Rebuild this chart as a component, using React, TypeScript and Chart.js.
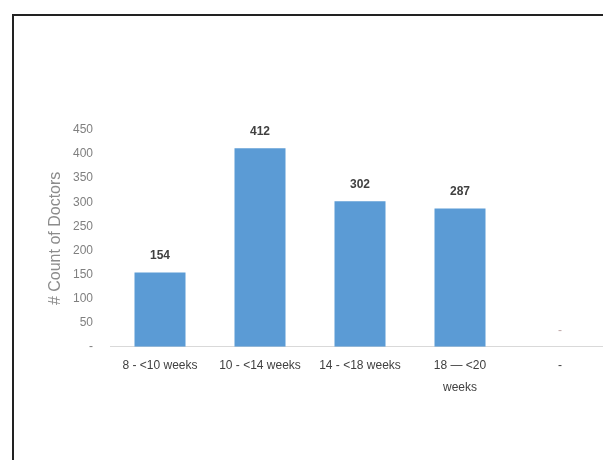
import React, { useEffect, useRef } from "react";
import { Chart, registerables } from "chart.js";

Chart.register(...registerables);

const categories: (string | string[])[] = [
  "8 - <10 weeks",
  "10 - <14 weeks",
  "14 - <18 weeks",
  ["18 — <20", "weeks"],
  "-",
];
const doctorCounts: number[] = [154, 412, 302, 287, 0];
const dataLabels: string[] = ["154", "412", "302", "287", "-"];
const yTicks: number[] = [0, 50, 100, 150, 200, 250, 300, 350, 400, 450];

const FONT = "'Liberation Sans', Arial, sans-serif";

const labelPlugin = {
  id: "barLabels",
  afterDatasetsDraw(chart: any) {
    const ctx = chart.ctx;
    const meta = chart.getDatasetMeta(0);
    ctx.save();
    ctx.textAlign = "center";
    ctx.textBaseline = "middle";
    meta.data.forEach((bar: any, i: number) => {
      const t = dataLabels[i];
      if (t === "-") {
        ctx.font = `12px ${FONT}`;
        ctx.fillStyle = "#c0a8a8";
        ctx.fillText("-", bar.x, bar.y - 16);
      } else {
        ctx.font = `bold 12px ${FONT}`;
        ctx.fillStyle = "#404040";
        ctx.fillText(t, bar.x, bar.y - 17);
      }
    });
    ctx.restore();
  },
};

export default function App() {
  const ref = useRef<HTMLCanvasElement>(null);
  useEffect(() => {
    document.documentElement.style.overflow = "hidden";
    document.body.style.overflow = "hidden";
    if (!ref.current) return;
    const chart = new Chart(ref.current, {
      type: "bar",
      data: {
        labels: categories,
        datasets: [
          {
            data: doctorCounts,
            backgroundColor: "#5b9bd5",
            barPercentage: 0.51,
            categoryPercentage: 1,
          },
        ],
      },
      options: {
        animation: false,
        responsive: true,
        maintainAspectRatio: false,
        layout: { padding: { top: 114, bottom: 62, left: 32, right: 1 } },
        plugins: {
          legend: { display: false },
          tooltip: { enabled: false },
        },
        scales: {
          x: {
            grid: { display: false },
            border: { display: true, color: "#d9d9d9", width: 1 },
            ticks: {
              color: "#404040",
              font: { family: FONT, size: 12, lineHeight: 1.8 },
              maxRotation: 0,
              autoSkip: false,
              padding: 0,
            },
          },
          y: {
            min: 0,
            max: 450,
            afterBuildTicks: (scale: any) => {
              scale.ticks = yTicks.map((v) => ({ value: v }));
            },
            afterFit: (scale: any) => {
              scale.width = 64;
            },
            grid: { display: false },
            border: { display: false },
            ticks: {
              color: "#7f7f7f",
              font: { family: FONT, size: 12 },
              padding: 9,
              callback: (v: any) => (Number(v) === 0 ? "-" : String(v)),
            },
            title: {
              display: true,
              text: "# Count of Doctors",
              color: "#8c8c8c",
              font: { family: FONT, size: 16 },
              padding: 0,
            },
          },
        },
      },
      plugins: [labelPlugin],
    });
    return () => chart.destroy();
  }, []);
  return (
    <div
      style={{
        marginTop: 6,
        marginLeft: 4,
        borderTop: "2px solid #222",
        borderLeft: "2px solid #222",
        width: 597,
        height: 444,
        position: "relative",
      }}
    >
      <canvas ref={ref} />
    </div>
  );
}
